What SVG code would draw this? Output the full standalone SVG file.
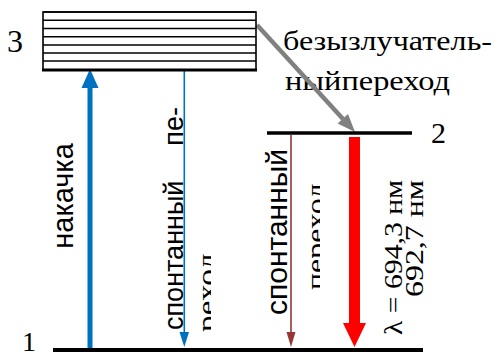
<svg xmlns="http://www.w3.org/2000/svg" width="497" height="356" viewBox="0 0 497 356">
<style>
.serif{font-family:'Liberation Serif','DejaVu Serif','Times New Roman',serif;fill:#000}
.num{font-family:'Liberation Serif','Times New Roman',serif;fill:#000}
.sans{font-family:'Liberation Sans',Arial,sans-serif;fill:#000}
.lvl{stroke:#000;fill:none}
.hl{stroke:#000;stroke-width:1.6}
</style>
<defs>
<clipPath id="clipL"><rect x="0" y="0" width="211" height="356"/></clipPath>
<clipPath id="clipR"><rect x="0" y="0" width="320" height="356"/></clipPath>
</defs>
<rect width="497" height="356" fill="#fff"/>

<g id="labels">
<text class="serif" x="283" y="50" font-size="28" textLength="209" lengthAdjust="spacingAndGlyphs">безызлучатель-</text>
<text class="serif" x="285" y="90" font-size="28" textLength="165" lengthAdjust="spacingAndGlyphs">ныйпереход</text>
<text class="sans" x="73" y="196" font-size="29" text-anchor="middle" transform="rotate(-90 73 196)">накачка</text>
<text class="sans" x="183" y="330" font-size="27" transform="rotate(-90 183 330)">спонтанный</text>
<text class="sans" x="183" y="107" font-size="27" text-anchor="end" transform="rotate(-90 183 107)">пе-</text>
<g clip-path="url(#clipL)"><text class="serif" x="216" y="332" font-size="28" textLength="79" lengthAdjust="spacingAndGlyphs" transform="rotate(-90 216 332)">реход</text></g>
<text class="sans" x="287" y="315" font-size="30" transform="rotate(-90 287 315)">спонтанный</text>
<g clip-path="url(#clipR)"><text class="serif" x="325" y="290" font-size="28" textLength="107" lengthAdjust="spacingAndGlyphs" transform="rotate(-90 325 290)">переход</text></g>
<text class="serif" x="402" y="335" font-size="26" textLength="155" lengthAdjust="spacingAndGlyphs" transform="rotate(-90 402 335)">λ = 694,3 нм</text>
<text class="serif" x="423" y="297" font-size="26" textLength="117" lengthAdjust="spacingAndGlyphs" transform="rotate(-90 423 297)">692,7 нм</text>
</g>

<g id="connectors">
<line x1="257" y1="25" x2="343" y2="119" stroke="#808080" stroke-width="4.5"/>
<polygon points="355,132 337.6,123.4 348,114" fill="#808080"/>
<line x1="90" y1="350" x2="90" y2="86" stroke="#0070C0" stroke-width="5"/>
<polygon points="90,69 81.5,88 98.5,88" fill="#0070C0"/>
<line x1="184.3" y1="70" x2="184.3" y2="334" stroke="#0070C0" stroke-width="1.6"/>
<polygon points="184.3,347 179.5,332 189,332" fill="#0070C0"/>
<line x1="291" y1="135" x2="291" y2="334" stroke="#953735" stroke-width="1.6"/>
<polygon points="291,347 286.5,332 295.5,332" fill="#953735"/>
<line x1="354.5" y1="137" x2="354.5" y2="325" stroke="#FF0000" stroke-width="11"/>
<polygon points="354.5,347 343,323 366,323" fill="#FF0000"/>
</g>

<g id="level3">
<rect x="43" y="12" width="213" height="58" fill="#fff" stroke="#000" stroke-width="1.6"/>
<line class="hl" x1="43" y1="12" x2="256" y2="12" stroke-width="2.2"/>
<line class="hl" x1="43" y1="20.3" x2="256" y2="20.3"/>
<line class="hl" x1="43" y1="28.5" x2="256" y2="28.5"/>
<line class="hl" x1="43" y1="36.7" x2="256" y2="36.7"/>
<line class="hl" x1="43" y1="45" x2="256" y2="45"/>
<line class="hl" x1="43" y1="53" x2="256" y2="53"/>
<line class="hl" x1="43" y1="61" x2="256" y2="61"/>
<line class="lvl" x1="42" y1="70" x2="257" y2="70" stroke-width="3"/>
<text class="num" x="7" y="52" font-size="32">3</text>
</g>

<g id="level2">
<line class="lvl" x1="267" y1="133" x2="412" y2="133" stroke-width="3.5"/>
<text class="num" x="431" y="143" font-size="30">2</text>
</g>

<g id="level1">
<line class="lvl" x1="53" y1="350" x2="423" y2="350" stroke-width="4"/>
<text class="num" x="22" y="351" font-size="28">1</text>
</g>
</svg>
